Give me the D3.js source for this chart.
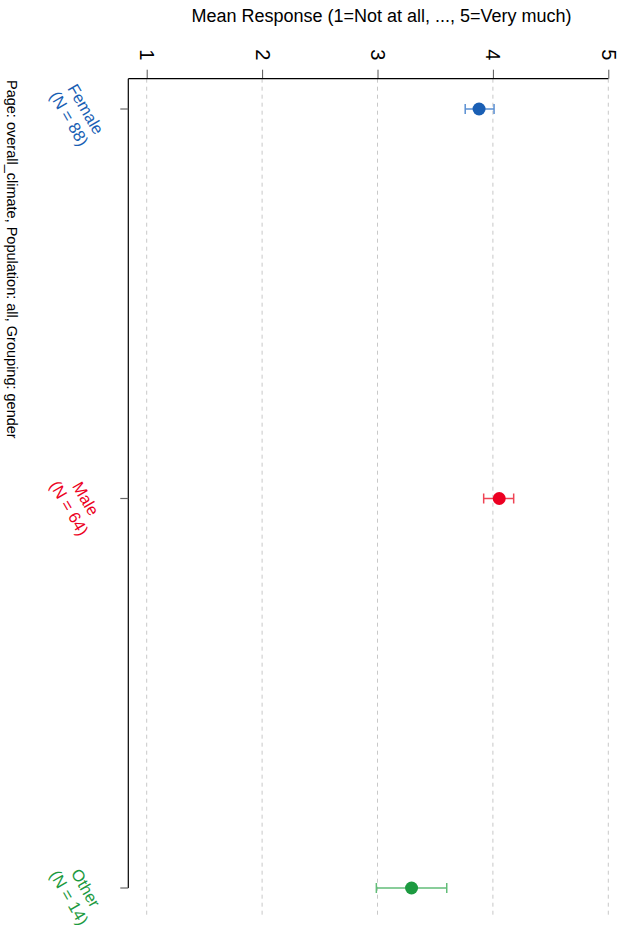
<!DOCTYPE html>
<html>
<head>
<meta charset="utf-8">
<script src="https://cdn.jsdelivr.net/npm/d3@7"></script>
<style>
  html, body { margin: 0; padding: 0; background: #fff; }
  svg { display: block; font-family: "Liberation Sans", Arial, Helvetica, sans-serif; }
</style>
</head>
<body>
<svg id="chart" width="621" height="930"></svg>
<script>
// ---- data ----
const groups = ["Female", "Male", "Other"];
const counts = [88, 64, 14];
const means = [3.88, 4.055, 3.295];
const ciLow = [3.76, 3.92, 2.99];
const ciHigh = [4.01, 4.18, 3.60];
const tickValues = [1, 2, 3, 4, 5];
const pointColors = ["#1a5fb4", "#ec0022", "#1c9a40"];
const barColors = ["#5a8fd2", "#ef4455", "#62bd78"];
const axisTitle = "Mean Response (1=Not at all, ..., 5=Very much)";
const caption = "Page: overall_climate, Population: all, Grouping: gender";

const svg = d3.select("#chart");

const x = d3.scaleLinear().domain([1, 5]).range([146.7, 608.3]);
const y = d3.scalePoint().domain(groups).range([109, 888]);

const axisY = 78.7;   // horizontal value axis line
const leftX = 128.3;  // vertical category axis line
const gridBottom = 918;

// gridlines
svg.append("g").selectAll("line").data(tickValues).join("line")
  .attr("x1", d => x(d)).attr("x2", d => x(d))
  .attr("y1", axisY).attr("y2", gridBottom)
  .attr("stroke", "#c8c8c8").attr("stroke-width", 1)
  .attr("stroke-dasharray", "4,4");

// value axis (on top, labels rotated)
const xAxis = svg.append("g").attr("transform", `translate(0,${axisY})`)
  .call(d3.axisTop(x).tickValues(tickValues).tickFormat(d3.format("d")).tickSize(9).tickSizeOuter(0));
xAxis.select(".domain").remove();
xAxis.selectAll(".tick line").attr("stroke", "#555").attr("stroke-width", 1);
xAxis.selectAll(".tick text")
  .attr("y", 0).attr("dy", null)
  .attr("transform", "translate(0,-24) rotate(90)")
  .attr("text-anchor", "middle")
  .attr("dominant-baseline", "central")
  .attr("font-size", 20).attr("fill", "#000")
  .attr("font-family", "'Liberation Sans', Arial, Helvetica, sans-serif");
svg.append("line")
  .attr("x1", leftX).attr("x2", x(5))
  .attr("y1", axisY).attr("y2", axisY)
  .attr("stroke", "#000").attr("stroke-width", 1.2);

// category axis
svg.append("line")
  .attr("x1", leftX).attr("x2", leftX)
  .attr("y1", axisY).attr("y2", y(groups[groups.length - 1]))
  .attr("stroke", "#000").attr("stroke-width", 1.2);
svg.append("g").selectAll("line").data(groups).join("line")
  .attr("x1", leftX - 8).attr("x2", leftX)
  .attr("y1", d => y(d)).attr("y2", d => y(d))
  .attr("stroke", "#666").attr("stroke-width", 1.2);

// category labels (rotated, two lines)
const lab = svg.append("g").selectAll("g").data(groups).join("g")
  .attr("transform", d => `translate(86,${y(d)}) rotate(60)`)
  .attr("font-size", 16.5)
  .attr("fill", (d, i) => pointColors[i]);
lab.append("text").attr("text-anchor", "middle").attr("dominant-baseline", "central")
  .attr("y", 0).text(d => d);
lab.append("text").attr("text-anchor", "middle").attr("dominant-baseline", "central")
  .attr("y", 19).text((d, i) => `(N = ${counts[i]})`);

// error bars
const eb = svg.append("g").selectAll("g").data(groups).join("g")
  .attr("stroke", (d, i) => barColors[i]).attr("stroke-width", 1.5);
eb.append("line")
  .attr("x1", (d, i) => x(ciLow[i])).attr("x2", (d, i) => x(ciHigh[i]))
  .attr("y1", d => y(d)).attr("y2", d => y(d));
eb.append("line")
  .attr("x1", (d, i) => x(ciLow[i])).attr("x2", (d, i) => x(ciLow[i]))
  .attr("y1", d => y(d) - 5).attr("y2", d => y(d) + 5);
eb.append("line")
  .attr("x1", (d, i) => x(ciHigh[i])).attr("x2", (d, i) => x(ciHigh[i]))
  .attr("y1", d => y(d) - 5).attr("y2", d => y(d) + 5);

// points
svg.append("g").selectAll("circle").data(groups).join("circle")
  .attr("cx", (d, i) => x(means[i])).attr("cy", d => y(d))
  .attr("r", 6.5).attr("fill", (d, i) => pointColors[i]);

// axis title
svg.append("text")
  .attr("x", 381.5).attr("y", 16)
  .attr("text-anchor", "middle").attr("dominant-baseline", "central")
  .attr("font-size", 18).attr("fill", "#000")
  .text(axisTitle);

// caption (rotated)
svg.append("text")
  .attr("transform", "translate(12,80) rotate(90)")
  .attr("text-anchor", "start").attr("dominant-baseline", "central")
  .attr("font-size", 14.5).attr("fill", "#000")
  .text(caption);
</script>
</body>
</html>
